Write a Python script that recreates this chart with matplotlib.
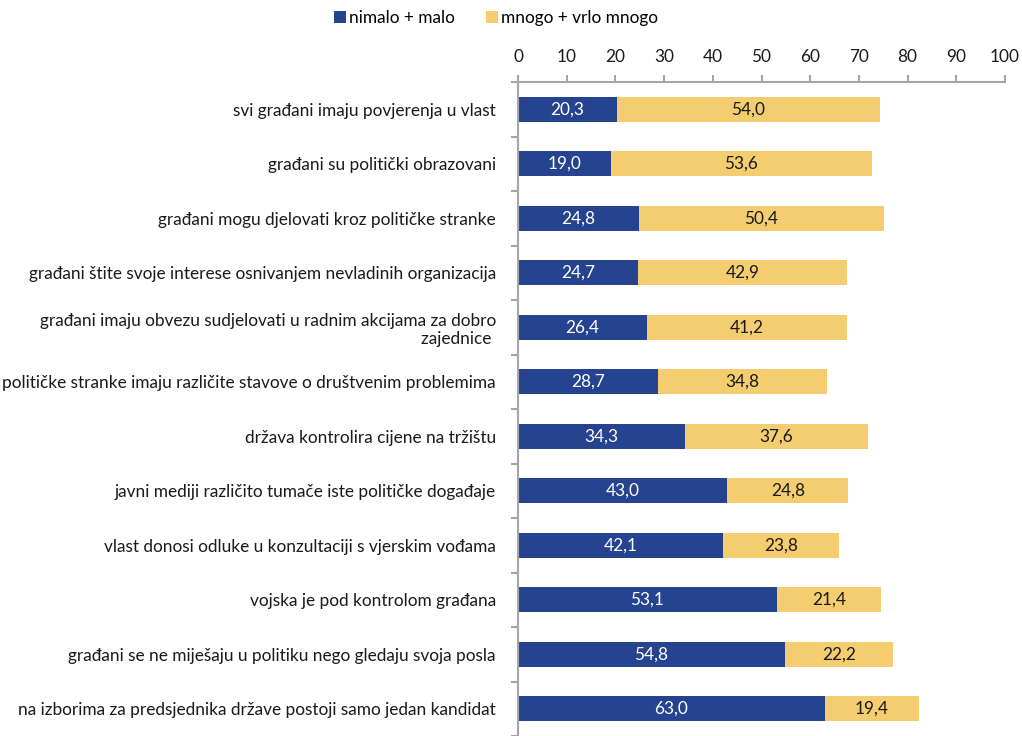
import matplotlib.pyplot as plt
import numpy as np

plt.rcParams['font.family'] = ['Lato', 'DejaVu Sans']

categories = [
    "svi građani imaju povjerenja u vlast",
    "građani su politički obrazovani",
    "građani mogu djelovati kroz političke stranke",
    "građani štite svoje interese osnivanjem nevladinih organizacija",
    "građani imaju obvezu sudjelovati u radnim akcijama za dobro\nzajednice ",
    "političke stranke imaju različite stavove o društvenim problemima",
    "država kontrolira cijene na tržištu",
    "javni mediji različito tumače iste političke događaje",
    "vlast donosi odluke u konzultaciji s vjerskim vođama",
    "vojska je pod kontrolom građana",
    "građani se ne miješaju u politiku nego gledaju svoja posla",
    "na izborima za predsjednika države postoji samo jedan kandidat",
]
low = [20.3, 19.0, 24.8, 24.7, 26.4, 28.7, 34.3, 43.0, 42.1, 53.1, 54.8, 63.0]
high = [54.0, 53.6, 50.4, 42.9, 41.2, 34.8, 37.6, 24.8, 23.8, 21.4, 22.2, 19.4]
series_names = ["nimalo + malo", "mnogo + vrlo mnogo"]
x_ticks = list(range(0, 101, 10))

blue = "#26438F"
yellow = "#F3CD70"
spine_col = "#A6A6A6"
fs = 12.4

W, H = 1022, 736
fig = plt.figure(figsize=(W / 100, H / 100), dpi=100)
ax_left, ax_right, ax_top = 518, 1005, 82
ax = fig.add_axes([ax_left / W, 0, (ax_right - ax_left) / W, 1 - ax_top / H])

y = np.arange(len(categories))
b1 = ax.barh(y, low, height=0.45, color=blue, label=series_names[0])
b2 = ax.barh(y, high, left=low, height=0.45, color=yellow, label=series_names[1])

for yi, lo, hi in zip(y, low, high):
    ax.text(lo / 2, yi, f"{lo:.1f}".replace(".", ","), ha="center", va="center",
            color="white", fontsize=fs)
    ax.text(lo + hi / 2, yi, f"{hi:.1f}".replace(".", ","), ha="center", va="center",
            color="#1a1a1a", fontsize=fs)

ax.set_xlim(0, 100)
bottom_lim = -0.5 + (H - ax_top) / 55.0
ax.set_ylim(bottom_lim, -0.5)

ax.xaxis.tick_top()
ax.set_xticks(x_ticks)
ax.tick_params(axis="x", direction="out", length=5, width=1.5, color=spine_col,
               labelsize=fs, pad=7, labelcolor="#1a1a1a")

ax.set_yticks(y)
ax.set_yticklabels(categories, fontsize=fs, color="#1a1a1a", multialignment="right")
ax.set_yticks(np.arange(len(categories) + 1) - 0.5, minor=True)
ax.tick_params(axis="y", which="major", length=0, pad=16)
ax.tick_params(axis="y", which="minor", length=5, width=1.5, color=spine_col, direction="out")

for s in ["right", "bottom"]:
    ax.spines[s].set_visible(False)
for s in ["top", "left"]:
    ax.spines[s].set_color(spine_col)
    ax.spines[s].set_linewidth(1.5)

fig.legend(handles=[b1, b2], labels=series_names, loc="center",
           bbox_to_anchor=(496 / W, 1 - 18 / H), ncol=2, frameon=False,
           fontsize=fs, handlelength=0.7, handleheight=0.7, handletextpad=0.2,
           columnspacing=1.8)

fig.savefig("out.png", dpi=100)
